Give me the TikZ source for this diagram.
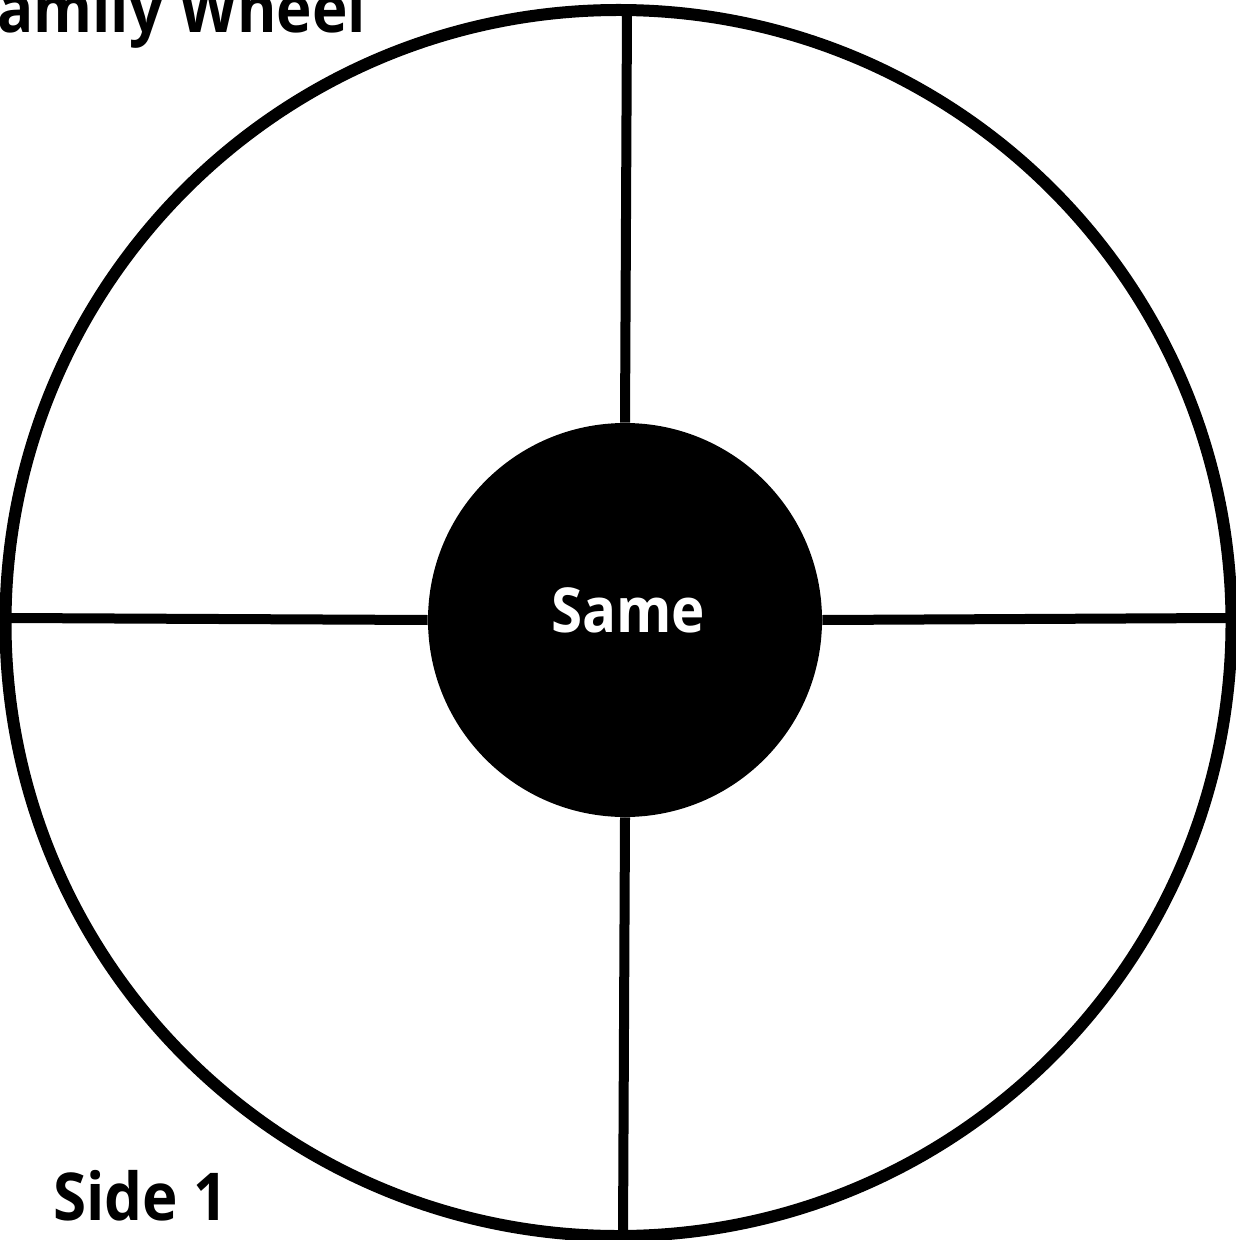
\documentclass[tikz,border=0pt]{standalone}
\usepackage{fontspec}
\newfontfamily\wheelfont[FakeStretch=0.91]{Open Sans}
\begin{document}
\begin{tikzpicture}[
            x=0.5pt, y=-0.5pt,
            font=\wheelfont\bfseries,
            wh rim/.style   ={draw, shape=circle, line width=6pt, minimum size=613pt, inner sep=0pt},
            wh hub/.style   ={fill=black, shape=circle, minimum size=197pt, inner sep=0pt},
            wh spoke/.style ={line width=5pt},
            wh label/.style ={inner sep=0pt, font=\wheelfont\bfseries\fontsize{33}{40}\selectfont}
        ]
        \useasboundingbox (0,0) rectangle (1235,1240);
        %% --- the wheel --------------------------------------------------------
        \node[wh rim] (rim) at (618.5,623) {};
        \coordinate (rimN) at (627,10);
        \coordinate (rimS) at (623,1236);
        \coordinate (rimW) at (11,618);
        \coordinate (rimE) at (1226,618);
        \node[wh hub] (hub) at (625,620) {};
        \draw[wh spoke] (hub.north) -- (rimN);
        \draw[wh spoke] (hub.south) -- (rimS);
        \draw[wh spoke] (hub.west)  -- (rimW);
        \draw[wh spoke] (hub.east)  -- (rimE);
        \node[inner sep=0pt, anchor=base, text=white,
              font=\wheelfont\bfseries\fontsize{31}{36}\selectfont] (same) at (628,632) {Same};
        %% --- labels -----------------------------------------------------------
        \node[wh label, anchor=base west] (title) at (-3,33) {amily Wheel};
        \node[wh label, anchor=base west] (side) at (53,1220) {Side 1};
    \end{tikzpicture}
\end{document}
